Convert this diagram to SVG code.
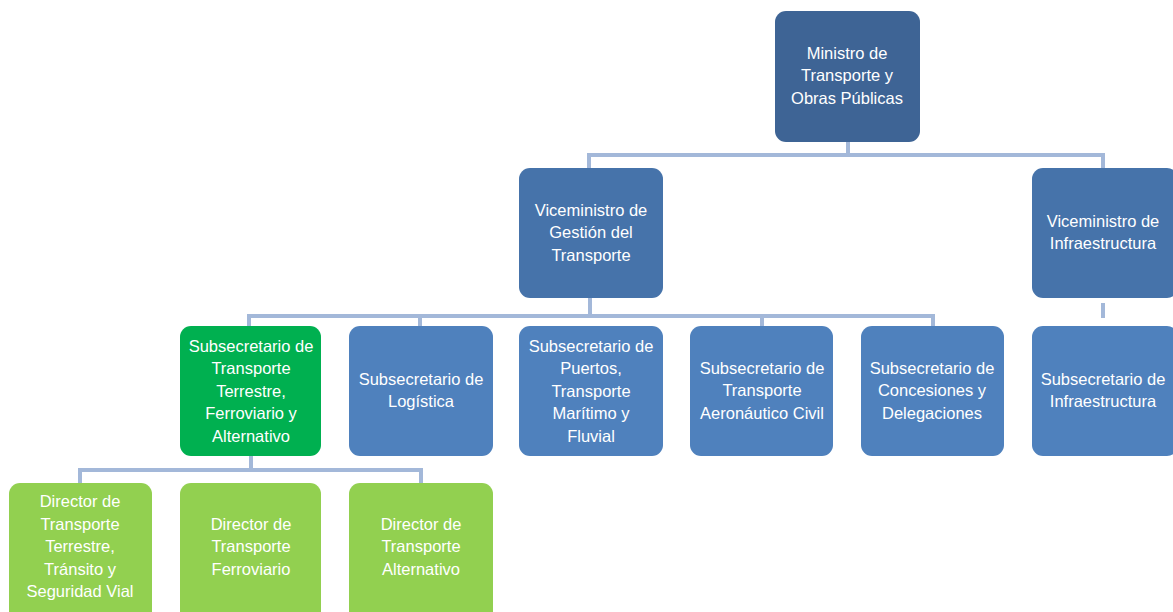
<svg xmlns="http://www.w3.org/2000/svg" width="1173" height="612" viewBox="0 0 1173 612">
<style>
.t{font-family:"Liberation Sans",Arial,sans-serif;font-size:16.5px;fill:#fff;text-anchor:middle}
.c{fill:none;stroke:#a3b8d9;stroke-width:4}
.top{fill:#3e6495}
.vm{fill:#4673aa}
.ss{fill:#4f81bd}
.gr{fill:#00b050}
.lg{fill:#92d050}
</style>
<rect width="1173" height="612" fill="#fff"/>
<g id="connectors">
<path class="c" d="M848 142V155M589 168V155H1103V168"/>
<path class="c" d="M590 298V316M249 326V316H933V326M420 316V326M762 316V326"/>
<path class="c" d="M1103 303V318"/>
<path class="c" d="M251 456V470M80 483V470H421V483"/>
</g>
<g id="n-ministro"><rect class="top" x="775" y="11" width="145" height="131" rx="11"/>
<text class="t" x="847" y="59">Ministro de</text><text class="t" x="847" y="81">Transporte y</text><text class="t" x="847" y="104">Obras Públicas</text></g>
<g id="n-vm-gestion"><rect class="vm" x="519" y="168" width="144" height="130" rx="11"/>
<text class="t" x="591" y="216">Viceministro de</text><text class="t" x="591" y="238">Gestión del</text><text class="t" x="591" y="261">Transporte</text></g>
<g id="n-vm-infra"><rect class="vm" x="1032" y="168" width="146" height="130" rx="11"/>
<text class="t" x="1103" y="227">Viceministro de</text><text class="t" x="1103" y="249">Infraestructura</text></g>
<g id="n-ss-terrestre"><rect class="gr" x="180" y="326" width="141" height="130" rx="11"/>
<text class="t" x="251" y="352">Subsecretario de</text><text class="t" x="251" y="374">Transporte</text><text class="t" x="251" y="397">Terrestre,</text><text class="t" x="251" y="419">Ferroviario y</text><text class="t" x="251" y="442">Alternativo</text></g>
<g id="n-ss-logistica"><rect class="ss" x="349" y="326" width="144" height="130" rx="11"/>
<text class="t" x="421" y="385">Subsecretario de</text><text class="t" x="421" y="407">Logística</text></g>
<g id="n-ss-puertos"><rect class="ss" x="519" y="326" width="144" height="130" rx="11"/>
<text class="t" x="591" y="352">Subsecretario de</text><text class="t" x="591" y="374">Puertos,</text><text class="t" x="591" y="397">Transporte</text><text class="t" x="591" y="419">Marítimo y</text><text class="t" x="591" y="442">Fluvial</text></g>
<g id="n-ss-aero"><rect class="ss" x="690" y="326" width="143" height="130" rx="11"/>
<text class="t" x="762" y="374">Subsecretario de</text><text class="t" x="762" y="396">Transporte</text><text class="t" x="762" y="419">Aeronáutico Civil</text></g>
<g id="n-ss-concesiones"><rect class="ss" x="861" y="326" width="143" height="130" rx="11"/>
<text class="t" x="932" y="374">Subsecretario de</text><text class="t" x="932" y="396">Concesiones y</text><text class="t" x="932" y="419">Delegaciones</text></g>
<g id="n-ss-infra"><rect class="ss" x="1032" y="326" width="146" height="130" rx="11"/>
<text class="t" x="1103" y="385">Subsecretario de</text><text class="t" x="1103" y="407">Infraestructura</text></g>
<g id="n-dir-terrestre"><rect class="lg" x="9" y="483" width="143" height="140" rx="11"/>
<text class="t" x="80" y="507">Director de</text><text class="t" x="80" y="530">Transporte</text><text class="t" x="80" y="552">Terrestre,</text><text class="t" x="80" y="575">Tránsito y</text><text class="t" x="80" y="597">Seguridad Vial</text></g>
<g id="n-dir-ferro"><rect class="lg" x="180" y="483" width="141" height="140" rx="11"/>
<text class="t" x="251" y="530">Director de</text><text class="t" x="251" y="552">Transporte</text><text class="t" x="251" y="575">Ferroviario</text></g>
<g id="n-dir-alt"><rect class="lg" x="349" y="483" width="144" height="140" rx="11"/>
<text class="t" x="421" y="530">Director de</text><text class="t" x="421" y="552">Transporte</text><text class="t" x="421" y="575">Alternativo</text></g>
</svg>
